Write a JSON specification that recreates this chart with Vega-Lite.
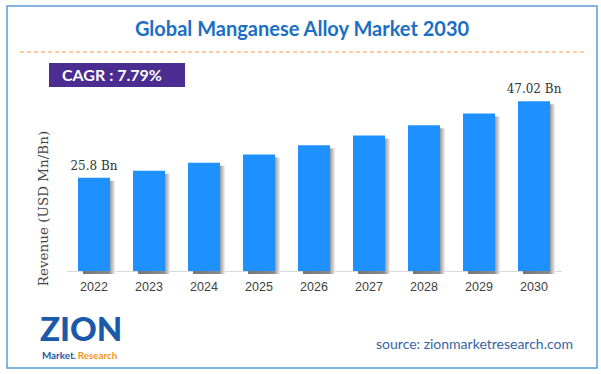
{
  "$schema": "https://vega.github.io/schema/vega-lite/v6.json",
  "width": 590,
  "height": 362,
  "autosize": {"type": "none"},
  "padding": {"left": 7, "top": 6, "right": 4, "bottom": 6},
  "background": "white",
  "config": {"view": {"stroke": "#5b9bd5", "strokeWidth": 1.5}},
  "resolve": {"scale": {"x": "independent", "y": "independent"}, "axis": {"x": "independent", "y": "independent"}},
  "layer": [
    {
      "data": {"values": [
        {"year": "2022", "value": 25.8, "label": "25.8 Bn"},
        {"year": "2023", "value": 27.8, "label": ""},
        {"year": "2024", "value": 30.0, "label": ""},
        {"year": "2025", "value": 32.3, "label": ""},
        {"year": "2026", "value": 34.8, "label": ""},
        {"year": "2027", "value": 37.5, "label": ""},
        {"year": "2028", "value": 40.4, "label": ""},
        {"year": "2029", "value": 43.6, "label": ""},
        {"year": "2030", "value": 47.02, "label": "47.02 Bn"}
      ]},
      "encoding": {
        "x": {
          "field": "year", "type": "ordinal",
          "scale": {"range": [59.5, 554.5], "paddingInner": 0.418, "paddingOuter": 0.209},
          "axis": {"title": null, "offset": -97, "domainColor": "#d9d9d9", "domainWidth": 1, "ticks": false, "grid": false,
                   "labelFont": "Liberation Sans", "labelFontSize": 12.5, "labelColor": "#404040", "labelPadding": 9, "labelAngle": 0}
        },
        "y": {
          "field": "value", "type": "quantitative",
          "scale": {"domain": [-26.87, 73.4], "nice": false, "zero": false},
          "axis": {"title": "Revenue (USD Mn/Bn)", "labels": false, "ticks": false, "domain": false, "grid": false,
                   "titleX": 36, "titleY": 202, "titleAngle": -90, "titleBaseline": "middle", "titleAlign": "center",
                   "titleFont": "DejaVu Serif", "titleFontSize": 13.5, "titleFontWeight": "normal", "titleColor": "#444444"}
        }
      },
      "layer": [
        {
          "mark": {"type": "bar", "xOffset": 5, "yOffset": 3,
                   "fill": {"gradient": "linear", "x1": 0, "x2": 1, "y1": 0, "y2": 0,
                            "stops": [{"offset": 0, "color": "#777777"}, {"offset": 0.82, "color": "#8a8a8a"}, {"offset": 1, "color": "#f2f2f2"}]}}
        },
        {"mark": {"type": "bar", "color": "#1e90ff"}},
        {
          "mark": {"type": "text", "font": "DejaVu Serif", "fontSize": 12, "color": "#333333", "dy": -8, "baseline": "alphabetic"},
          "encoding": {"text": {"field": "label"}}
        }
      ]
    },
    {
      "data": {"values": [{}]},
      "mark": {"type": "text", "font": "Lato", "fontWeight": "bold", "fontSize": 20, "color": "#1a6fc4", "align": "center", "baseline": "middle"},
      "encoding": {
        "x": {"datum": 50, "type": "quantitative", "scale": {"domain": [0, 100]}, "axis": null},
        "y": {"datum": 93.37, "type": "quantitative", "scale": {"domain": [0, 100]}, "axis": null},
        "text": {"value": "Global Manganese Alloy Market 2030"}
      }
    },
    {
      "data": {"values": [{}]},
      "mark": {"type": "rule", "color": "#f79646", "strokeDash": [4, 3], "strokeWidth": 1},
      "encoding": {
        "x": {"datum": 2.2, "type": "quantitative", "scale": {"domain": [0, 100]}, "axis": null},
        "x2": {"datum": 98.3},
        "y": {"datum": 87.29, "type": "quantitative", "scale": {"domain": [0, 100]}, "axis": null}
      }
    },
    {
      "data": {"values": [{}]},
      "mark": {"type": "rect", "color": "#4b2c91"},
      "encoding": {
        "x": {"datum": 7.12, "type": "quantitative", "scale": {"domain": [0, 100]}, "axis": null},
        "x2": {"datum": 30.17},
        "y": {"datum": 84.25, "type": "quantitative", "scale": {"domain": [0, 100]}, "axis": null},
        "y2": {"datum": 77.62}
      }
    },
    {
      "data": {"values": [{}]},
      "mark": {"type": "text", "font": "Lato", "fontWeight": "bold", "fontSize": 16, "color": "white", "align": "left", "baseline": "middle"},
      "encoding": {
        "x": {"datum": 9.32, "type": "quantitative", "scale": {"domain": [0, 100]}, "axis": null},
        "y": {"datum": 80.8, "type": "quantitative", "scale": {"domain": [0, 100]}, "axis": null},
        "text": {"value": "CAGR :  7.79%"}
      }
    },
    {
      "data": {"values": [{}]},
      "mark": {"type": "text", "font": "Lato", "fontSize": 14, "color": "#3465a4", "align": "right", "baseline": "middle"},
      "encoding": {
        "x": {"datum": 95.93, "type": "quantitative", "scale": {"domain": [0, 100]}, "axis": null},
        "y": {"datum": 6.35, "type": "quantitative", "scale": {"domain": [0, 100]}, "axis": null},
        "text": {"value": "source: zionmarketresearch.com"}
      }
    },
    {
      "data": {"values": [{}]},
      "mark": {"type": "text", "font": "Lato", "fontWeight": 900, "fontSize": 33, "color": "#1a5aa8", "align": "left", "baseline": "middle"},
      "encoding": {
        "x": {"datum": 5.6, "type": "quantitative", "scale": {"domain": [0, 100]}, "axis": null},
        "y": {"datum": 10.2, "type": "quantitative", "scale": {"domain": [0, 100]}, "axis": null},
        "text": {"value": "ZION"}
      }
    },
    {
      "data": {"values": [{}]},
      "mark": {"type": "text", "font": "Lato", "fontWeight": "bold", "fontSize": 9.8, "color": "#1a5aa8", "align": "left", "baseline": "middle"},
      "encoding": {
        "x": {"datum": 5.93, "type": "quantitative", "scale": {"domain": [0, 100]}, "axis": null},
        "y": {"datum": 3.45, "type": "quantitative", "scale": {"domain": [0, 100]}, "axis": null},
        "text": {"value": "Market."}
      }
    },
    {
      "data": {"values": [{}]},
      "mark": {"type": "text", "font": "Lato", "fontWeight": "bold", "fontSize": 9.8, "color": "#f7941d", "align": "left", "baseline": "middle"},
      "encoding": {
        "x": {"datum": 12.0, "type": "quantitative", "scale": {"domain": [0, 100]}, "axis": null},
        "y": {"datum": 3.45, "type": "quantitative", "scale": {"domain": [0, 100]}, "axis": null},
        "text": {"value": "Research"}
      }
    }
  ]
}
